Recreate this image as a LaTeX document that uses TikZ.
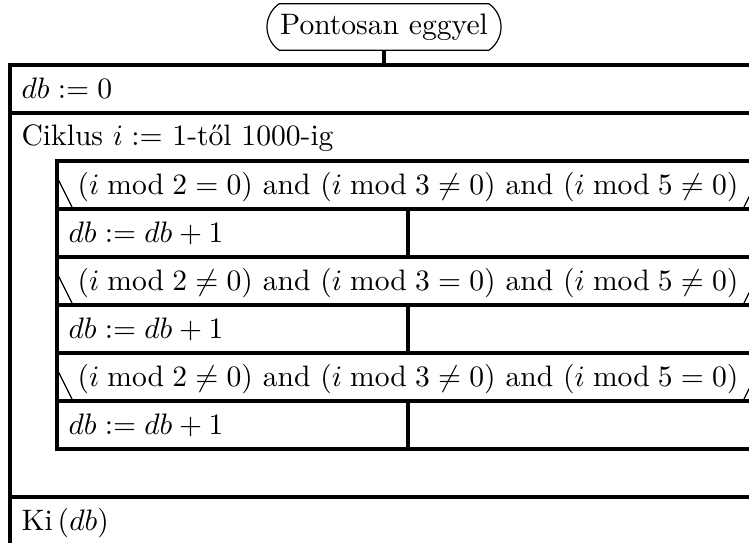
\documentclass[tikz,border=0pt]{standalone}
\usetikzlibrary{shapes.misc}
\begin{document}
\begin{tikzpicture}[x=0.338pt,y=-0.338pt,
  frame/.style={line width=1.1pt},
  txt/.style={anchor=base west,inner sep=0pt},
  cond/.style={anchor=base,inner sep=0pt},
  startbox/.style={draw,rounded rectangle,rounded rectangle arc length=110}]
\useasboundingbox (0,0) rectangle (749,542);
\clip (0,0) rectangle (749,542);
% start node
\node[startbox] (start) at (384,27) {Pontosan eggyel};
\coordinate (top) at (384,65);
\draw[frame] (start.south) -- (top);
% outer frame
\draw[frame] (790,65) -- (10,65) -- (10,600);
\draw[frame] (10,113) -- (790,113);
\draw[frame] (10,497) -- (790,497);
\node[txt] (init) at (21,98) {$db := 0$};
\node[txt] (loop) at (21,145) {Ciklus $i :=$ 1-től 1000-ig};
\node[txt] (out) at (21,530) {Ki\,($db$)};
% loop body
\draw[frame] (57,161) rectangle (759,449);
\draw[frame] (57,209) -- (759,209);
\draw[frame] (57,257) -- (759,257);
\draw[frame] (57,305) -- (759,305);
\draw[frame] (57,353) -- (759,353);
\draw[frame] (57,401) -- (759,401);
\draw[frame] (408,209) -- (408,257);
\draw[frame] (408,305) -- (408,353);
\draw[frame] (408,401) -- (408,449);
% first branch
\draw (57,177) -- (73,209);
\draw (759,177) -- (743,209);
\node[cond] (c1) at (408,194) {$(i \bmod 2 = 0)$ and $(i \bmod 3 \neq 0)$ and $(i \bmod 5 \neq 0)$};
\node[txt] (inc1) at (68,242) {$db := db + 1$};
% second branch
\draw (57,273) -- (73,305);
\draw (759,273) -- (743,305);
\node[cond] (c2) at (408,290) {$(i \bmod 2 \neq 0)$ and $(i \bmod 3 = 0)$ and $(i \bmod 5 \neq 0)$};
\node[txt] (inc2) at (68,338) {$db := db + 1$};
% third branch
\draw (57,369) -- (73,401);
\draw (759,369) -- (743,401);
\node[cond] (c3) at (408,386) {$(i \bmod 2 \neq 0)$ and $(i \bmod 3 \neq 0)$ and $(i \bmod 5 = 0)$};
\node[txt] (inc3) at (68,434) {$db := db + 1$};
\end{tikzpicture}
\end{document}
